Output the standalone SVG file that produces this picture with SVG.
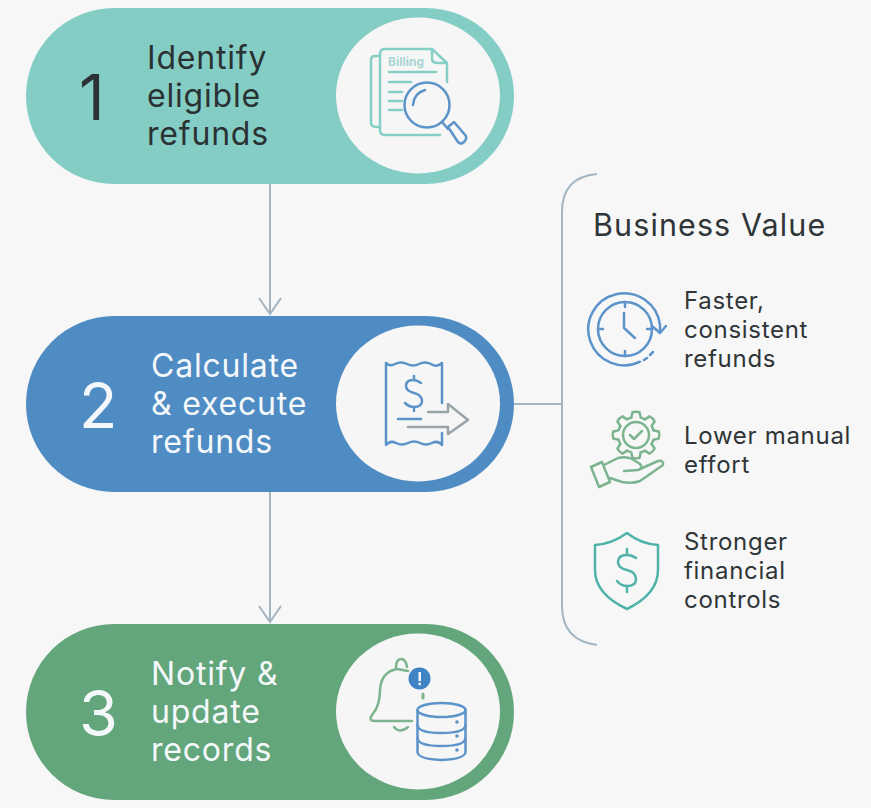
<svg xmlns="http://www.w3.org/2000/svg" width="871" height="808" viewBox="0 0 871 808">
<defs>
<filter id="soft" x="-5%" y="-5%" width="110%" height="110%"><feGaussianBlur stdDeviation="0.5"/></filter>
<path id="tooth" d="M-4.660 -17.390L-3.600 -22.700Q0 -24 3.600 -22.700L4.660 -17.390A18 18 0 0 1 9 -15.590"/>
</defs>
<style>
text{font-family:Inter,"Open Sans","Liberation Sans",sans-serif}
.st{font-size:32px;letter-spacing:.8px}
.dark{fill:#2a3233}.lite{fill:#f4f8fa}
.num{font-size:63px;font-weight:400}
.val{font-size:24px;fill:#2f3538;letter-spacing:.7px}
.ln{fill:none;stroke-width:2.500;stroke-linecap:round;stroke-linejoin:round;filter:url(#soft)}
.tl{stroke:#86cfc7}.bl{stroke:#5b93c9}.gr{stroke:#7cb48f}.sh{stroke:#4fb3a7}.gy{stroke:#9aa3a8}
.conn{fill:none;stroke:#a4b5c2;stroke-width:2}
.disc{fill:#f6f6f6}
</style>
<rect width="871" height="808" fill="#f7f7f7"/>
<g id="connectors">
<path class="conn" d="M270 184V314M259 298L270 314L281 298"/>
<path class="conn" d="M270 492V622M259 606L270 622L281 606"/>
<path class="conn" d="M514 404H561"/>
<path class="conn" d="M597 174C574 176 562 188 562 212V606C562 630 574 642 597 645"/>
</g>
<g id="node-1">
<rect x="26" y="8" width="488" height="176" rx="88" fill="#84cdc5"/>
<ellipse class="disc" cx="418" cy="95.500" rx="82" ry="78"/>
<text class="num dark" x="79" y="120">1</text>
<text class="st dark" x="147" y="69">Identify</text>
<text class="st dark" x="147" y="107">eligible</text>
<text class="st dark" x="147" y="145">refunds</text>
<g class="ln tl">
<path d="M380 56H375Q371 56 371 60V122Q371 127 376 127H380"/>
<path d="M432 49H385Q380 49 380 54V130Q380 135 385 135H440"/>
<path d="M432 49L447 63M432 49V58Q432 63 437 63H447M447 63V82"/>
<path d="M389 72H436M389 82H411M389 92H402M389 101H402M389 110H402"/>
</g>
<text x="388" y="66" font-size="12" font-weight="700" fill="#a9d6d4">Billing</text>
<g class="ln bl">
<circle cx="427" cy="105" r="22.500"/>
<path d="M413 105Q414 93 425 90"/>
<path d="M442 122L448 129"/>
<path d="M448 127L454 122L466 136Q467 139 464 142Q461 145 458 142Z"/>
</g>
</g>
<g id="node-2">
<rect x="26" y="316" width="488" height="176" rx="88" fill="#4f8cc4"/>
<ellipse class="disc" cx="418" cy="403.500" rx="82" ry="78"/>
<text class="num lite" x="79" y="428">2</text>
<text class="st lite" x="151" y="377">Calculate</text>
<text class="st lite" x="151" y="415">&amp; execute</text>
<text class="st lite" x="151" y="453">refunds</text>
<g class="ln bl">
<path d="M442 403V363Q437 368 431 364Q425 361 419 364Q413 367 407 364Q401 361 395 364Q390 367 386 363V445Q390 440 396 443Q402 446 408 443Q414 440 420 443Q426 446 432 443Q438 440 442 445V433"/>
<path d="M421 383Q417 380 413 380Q406 380 406 386Q406 391 414 393Q422 395 422 401Q422 407 414 407Q409 407 405 403M414 376V380M414 407V411"/>
<path d="M398 419H421"/>
</g>
<g class="ln gy">
<path d="M428 412H448V404L468 420L448 434V427H408"/>
</g>
</g>
<g id="node-3">
<rect x="26" y="624" width="488" height="176" rx="88" fill="#63a67c"/>
<ellipse class="disc" cx="418" cy="711.500" rx="82" ry="78"/>
<text class="num lite" x="79" y="736">3</text>
<text class="st lite" x="151" y="685">Notify &amp;</text>
<text class="st lite" x="151" y="723">update</text>
<text class="st lite" x="151" y="761">records</text>
<g class="ln gr">
<path d="M412 721H375Q368 721 372 715Q380 706 380 690Q381 672 397 669L408 671"/>
<path d="M396 668Q396 659 401 659Q406 659 407 667"/>
<path d="M394 727Q400 734 408 727"/>
<path d="M423 694V698" stroke-width="3"/>
</g>
<circle cx="419.500" cy="678.500" r="11" fill="#3f83c4"/>
<rect x="418.500" y="672" width="2.500" height="9" fill="#f6f6f6"/><circle cx="419.700" cy="684" r="1.400" fill="#f6f6f6"/>
<g class="ln bl">
<ellipse cx="441.500" cy="710" rx="24" ry="7"/>
<path d="M417.500 710V752Q418 759 441.500 760Q465 759 465.500 752V710"/>
<path d="M417.500 725Q418 733 441.500 733Q465 733 465.500 725M417.500 738Q418 746 441.500 746Q465 746 465.500 738"/>
</g>
<g fill="#5b93c9"><circle cx="457" cy="722" r="1.800"/><circle cx="457" cy="736" r="1.800"/><circle cx="457" cy="750" r="1.800"/></g>
</g>
<g id="business-value">
<text x="593" y="236" font-size="30.500" fill="#2f3538" letter-spacing="1.100">Business Value</text>
<g id="value-1">
<g class="ln bl">
<path d="M640 361.700A36 36 0 1 1 660 325V332"/>
<path d="M652 326L660 333L666 326"/>
<circle cx="625" cy="329" r="27"/>
<path d="M624 313V328L635 338"/>
<path d="M625 302V307M625 351V356M598 329H603M647 329H652"/>
<path d="M644 360L647 358M650 355L653 352"/>
</g>
<text class="val" x="684" y="309">Faster,</text>
<text class="val" x="684" y="338">consistent</text>
<text class="val" x="684" y="367">refunds</text>
</g>
<g id="value-2">
<g class="ln gr">
<g transform="translate(636 435)">
<use href="#tooth"/><use href="#tooth" transform="rotate(45)"/><use href="#tooth" transform="rotate(90)"/><use href="#tooth" transform="rotate(135)"/><use href="#tooth" transform="rotate(180)"/><use href="#tooth" transform="rotate(225)"/><use href="#tooth" transform="rotate(270)"/><use href="#tooth" transform="rotate(315)"/>
</g>
<circle cx="636" cy="435" r="13"/>
<path d="M630 435L634 439L642 431"/>
<path d="M591 467L602 462L610 482L599 487Z"/>
<path d="M604 465L618 458Q626 456 632 459L640 464Q644 468 638 470L624 471"/>
<path d="M640 469L658 461Q664 460 663 465L640 481Q632 484 622 482L610 478"/>
</g>
<text class="val" x="684" y="444">Lower manual</text>
<text class="val" x="684" y="473">effort</text>
</g>
<g id="value-3">
<g class="ln sh">
<path d="M627 533Q641 544 658 545V570Q658 594 627 609Q595 594 595 570V545Q612 544 627 533Z"/>
<path d="M636 558Q632 555 627 555Q618 555 618 562Q618 568 627 570Q636 572 636 579Q636 586 627 586Q621 586 617 581M627 549V555M627 586V592"/>
</g>
<text class="val" x="684" y="550">Stronger</text>
<text class="val" x="684" y="579">financial</text>
<text class="val" x="684" y="608">controls</text>
</g>
</g>
</svg>
